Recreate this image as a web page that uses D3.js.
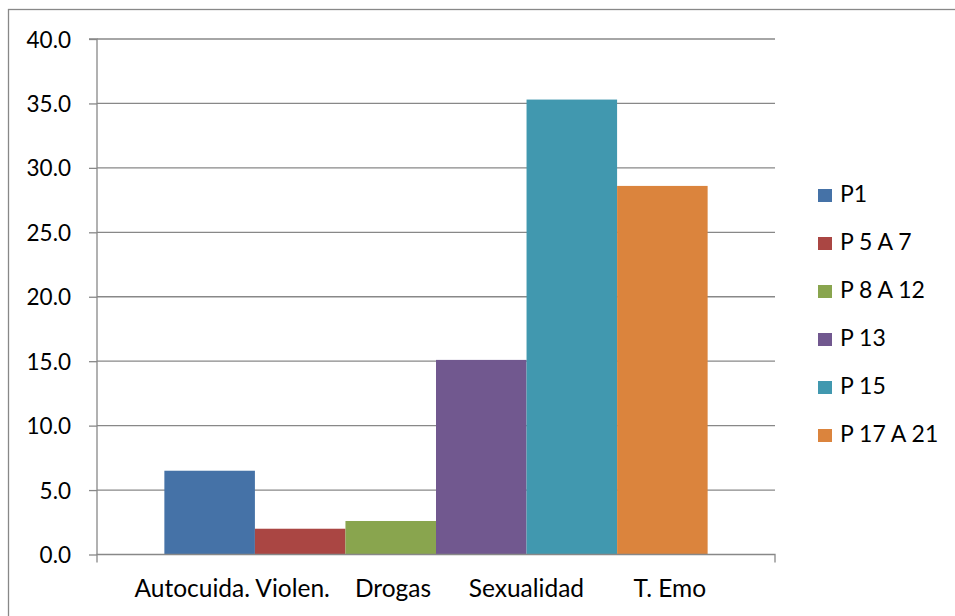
<!DOCTYPE html>
<html><head><meta charset="utf-8">
<script src="https://cdn.jsdelivr.net/npm/d3@7"></script>
<style>
html,body{margin:0;padding:0;background:#fff;overflow:hidden}
text{font-family:Lato,"Open Sans",sans-serif;fill:#000}
</style></head>
<body>
<svg id="c" width="955" height="616"></svg>
<script>
const categories = ["Autocuida. Violen.    Drogas      Sexualidad        T. Emo     "];
const seriesNames = ["P1", "P 5 A 7", "P 8 A 12", "P 13", "P 15", "P 17 A 21"];
const seriesValues = [[6.5], [2.0], [2.6], [15.1], [35.3], [28.6]];
const seriesColors = ["#4572A7", "#AA4643", "#89A54E", "#71588F", "#4198AF", "#DB843D"];
const yTicks = [0, 5, 10, 15, 20, 25, 30, 35, 40];

const svg = d3.select("#c");
const m = {left: 97, right: 775, top: 39, bottom: 554.5};
const fs = 22.5;

svg.append("rect").attr("x", 8.5).attr("y", 9.5).attr("width", 1000).attr("height", 700)
  .attr("fill", "#fff").attr("stroke", "#888").attr("stroke-width", 1.3);

const y = d3.scaleLinear().domain([0, 40]).range([m.bottom, m.top]);
const x0 = d3.scaleBand().domain(categories).range([m.left, m.right]).paddingInner(0).paddingOuter(0.124);
const x1 = d3.scaleBand().domain(seriesNames).range([0, x0.bandwidth()]).padding(0);

// gridlines
svg.append("g").selectAll("line").data(yTicks.slice(1)).join("line")
  .attr("x1", m.left).attr("x2", m.right)
  .attr("y1", d => y(d)).attr("y2", d => y(d))
  .attr("stroke", "#888").attr("stroke-width", 1.3);

// bars
const data = [];
categories.forEach((c, ci) => seriesNames.forEach((s, si) => data.push({c, s, v: seriesValues[si][ci], col: seriesColors[si]})));
svg.append("g").selectAll("rect").data(data).join("rect")
  .attr("x", d => x0(d.c) + x1(d.s))
  .attr("width", x1.bandwidth())
  .attr("y", d => y(d.v))
  .attr("height", d => y(0) - y(d.v))
  .attr("fill", d => d.col);

// y axis
const ya = svg.append("g").attr("transform", `translate(${m.left},0)`)
  .call(d3.axisLeft(y).tickValues(yTicks).tickFormat(d3.format(".1f")).tickSize(8).tickPadding(18));
ya.select(".domain").attr("stroke", "#888").attr("stroke-width", 1.3).attr("d", `M-8,${m.top}H0V${m.bottom}`);
ya.selectAll(".tick line").attr("stroke", "#888").attr("stroke-width", 1.3);
ya.selectAll(".tick text").attr("font-size", fs).attr("font-family", "Lato").attr("fill", "#000").attr("dy", "0.36em");

// x axis
const xa = svg.append("g").attr("transform", `translate(0,${m.bottom})`)
  .call(d3.axisBottom(x0).tickSize(0).tickPadding(0));
xa.select(".domain").attr("stroke", "#888").attr("stroke-width", 1.3)
  .attr("d", `M${m.left},8V0H${m.right}V8`);
xa.selectAll(".tick text").attr("font-size", 24.5).attr("font-family", "Lato").attr("fill", "#000")
  .attr("y", 42.5).attr("dy", 0).style("white-space", "pre");

// legend
const lg = svg.append("g").selectAll("g").data(seriesNames).join("g")
  .attr("transform", (d, i) => `translate(818,${202 + i * 48})`);
lg.append("rect").attr("x", 0).attr("y", -13).attr("width", 14).attr("height", 13)
  .attr("fill", (d, i) => seriesColors[i]);
lg.append("text").attr("x", 22).attr("y", 0).attr("font-size", 23).text(d => d);
</script>
</body></html>
